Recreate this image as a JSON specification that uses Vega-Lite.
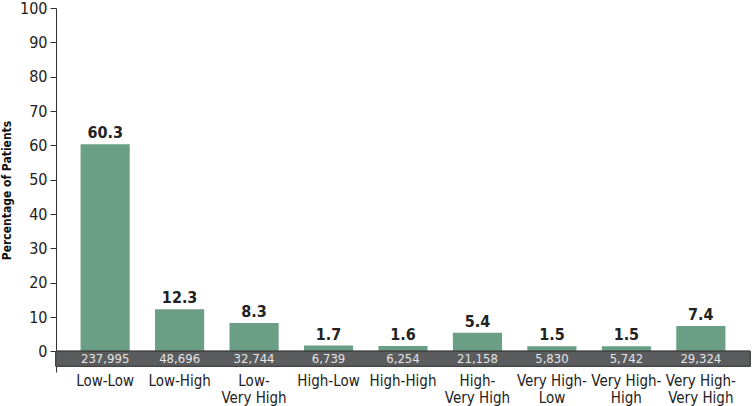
{
  "$schema": "https://vega.github.io/schema/vega-lite/v6.json",
  "width": 694,
  "height": 364,
  "autosize": "none",
  "padding": {"left": 56, "top": 8, "right": 4, "bottom": 34},
  "background": "white",
  "data": {
    "values": [
      {"group": "Low-Low", "pct": 60.3, "n": "237,995"},
      {"group": "Low-High", "pct": 12.3, "n": "48,696"},
      {"group": "Low-Very High", "pct": 8.3, "n": "32,744"},
      {"group": "High-Low", "pct": 1.7, "n": "6,739"},
      {"group": "High-High", "pct": 1.6, "n": "6,254"},
      {"group": "High-Very High", "pct": 5.4, "n": "21,158"},
      {"group": "Very High-Low", "pct": 1.5, "n": "5,830"},
      {"group": "Very High-High", "pct": 1.5, "n": "5,742"},
      {"group": "Very High-Very High", "pct": 7.4, "n": "29,324"}
    ]
  },
  "encoding": {
    "x": {
      "field": "group",
      "type": "nominal",
      "sort": null,
      "scale": {"paddingInner": 0.34, "paddingOuter": 0.33},
      "axis": {
        "title": null,
        "domain": false,
        "ticks": false,
        "labelAngle": 0,
        "labelPadding": 1,
        "labelFontSize": 15,
        "labelLineHeight": 17,
        "labelColor": "#222",
        "labelBaseline": "top",
        "labelOverlap": false,
        "labelExpr": "length(datum.value) > 9 ? [substring(datum.value, 0, indexof(datum.value, '-') + 1), substring(datum.value, indexof(datum.value, '-') + 1)] : datum.value"
      }
    }
  },
  "layer": [
    {
      "mark": {"type": "bar", "color": "#6a9e85"},
      "encoding": {
        "y": {
          "field": "pct",
          "type": "quantitative",
          "scale": {"domain": [-6, 100], "nice": false, "zero": false},
          "axis": {
            "title": "Percentage of Patients",
            "values": [0, 10, 20, 30, 40, 50, 60, 70, 80, 90, 100]
          }
        },
        "y2": {"datum": 0}
      }
    },
    {
      "mark": {"type": "rect", "color": "#5b5c5e", "stroke": "#444", "strokeWidth": 1},
      "encoding": {
        "x": null,
        "y": {"datum": 0, "type": "quantitative", "axis": {"title": "Percentage of Patients", "values": [0, 10, 20, 30, 40, 50, 60, 70, 80, 90, 100]}},
        "y2": {"datum": -4.3}
      }
    },
    {
      "mark": {"type": "text", "color": "#e4e4e4", "fontSize": 13, "baseline": "middle"},
      "encoding": {
        "y": {"datum": -2.2, "type": "quantitative", "axis": {"title": "Percentage of Patients", "values": [0, 10, 20, 30, 40, 50, 60, 70, 80, 90, 100]}},
        "text": {"field": "n"}
      }
    },
    {
      "mark": {"type": "text", "fontSize": 16, "fontWeight": "bold", "color": "#222", "baseline": "bottom", "dy": -3},
      "encoding": {
        "y": {"field": "pct", "type": "quantitative", "axis": {"title": "Percentage of Patients", "values": [0, 10, 20, 30, 40, 50, 60, 70, 80, 90, 100]}},
        "text": {"field": "pct", "type": "quantitative", "format": ".1f"}
      }
    }
  ],
  "config": {
    "font": "DejaVu Sans Condensed, Roboto, sans-serif",
    "view": {"stroke": null},
    "axisY": {
      "titleFontSize": 12,
      "titleFontWeight": "bold",
      "titleColor": "#111",
      "titlePadding": 6,
      "labelOverlap": false,
      "tickCount": 11,
      "grid": false,
      "domainColor": "#333",
      "tickColor": "#333",
      "tickSize": 6,
      "labelFontSize": 16,
      "labelColor": "#222",
      "labelPadding": 3
    }
  }
}
